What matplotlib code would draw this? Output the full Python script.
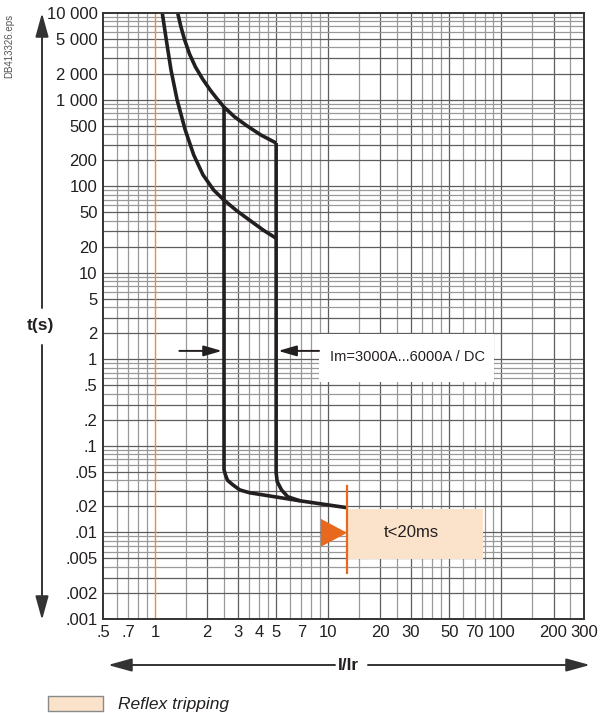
import matplotlib.pyplot as plt
import numpy as np
from matplotlib.patches import Rectangle, Polygon

plt.rcParams["font.family"] = ["Liberation Sans", "DejaVu Sans"]

# long-time curves, t (s) against I/Ir
upper_I = [1.35, 1.41, 1.48, 1.58, 1.71, 1.88, 2.08, 2.28, 2.5, 2.88, 3.38, 4.08, 5.0]
upper_t = [10000, 6900, 4900, 3360, 2380, 1730, 1290, 1020, 820, 630, 500, 390, 315]
lower_I = [1.10, 1.16, 1.235, 1.34, 1.49, 1.67, 1.89, 2.18, 2.5, 2.96, 3.54, 4.22, 5.0]
lower_t = [10000, 4900, 2200, 990, 450, 230, 135, 90, 69, 52, 40, 31, 25]

# instantaneous pick-up Im = 3000 A ... 6000 A
im_low_I = [2.5, 2.5, 2.55, 2.62, 2.81, 3.08, 3.52, 6.86, 12.85]
im_low_t = [820, 0.053, 0.046, 0.040, 0.0355, 0.031, 0.0287, 0.0232, 0.0193]
im_high_I = [5.0, 5.0, 5.07, 5.37, 5.84, 6.86]
im_high_t = [315, 0.049, 0.0387, 0.031, 0.0258, 0.0232]

# reflex tripping
reflex_I = 12.85
reflex_t = 0.02

x_ticks = [.5, .7, 1, 2, 3, 4, 5, 7, 10, 20, 30, 50, 70, 100, 200, 300]
x_labels = [".5", ".7", "1", "2", "3", "4", "5", "7", "10", "20", "30", "50", "70", "100", "200", "300"]
y_ticks = [10000, 5000, 2000, 1000, 500, 200, 100, 50, 20, 10, 5, 2, 1,
           .5, .2, .1, .05, .02, .01, .005, .002, .001]
y_labels = ["10 000", "5 000", "2 000", "1 000", "500", "200", "100", "50", "20", "10", "5", "2", "1",
            ".5", ".2", ".1", ".05", ".02", ".01", ".005", ".002", ".001"]

W, H = 603, 714
fig = plt.figure(figsize=(W / 100, H / 100), dpi=100)
ax = fig.add_axes([103 / W, 95 / H, 481 / W, 606 / H])
ax.set_xscale("log")
ax.set_yscale("log")
ax.set_xlim(0.5, 300)
ax.set_ylim(0.001, 10000)

dark = "#231f20"
orange = "#e8691e"
peach = "#fbe2cb"

# graph paper grid
for dec in [0.1, 1, 10, 100]:
    for m in [1, 1.5, 2, 2.5, 3, 3.5, 4, 4.5, 5, 6, 7, 8, 9]:
        v = m * dec
        if 0.5 < v < 300 and v != 1:
            c = "#5e5e5e" if m in (1, 2, 3, 5) else "#999999"
            ax.axvline(v, color=c, lw=0.9, zorder=1)
for dec in [0.001, 0.01, 0.1, 1, 10, 100, 1000]:
    for m in [1, 2, 3, 4, 5, 6, 7, 8, 9]:
        v = m * dec
        if 0.001 < v < 10000:
            c = "#5e5e5e" if m in (1, 2, 3, 5) else "#999999"
            ax.axhline(v, color=c, lw=0.9, zorder=1)
ax.axvline(1, color="#ef8a3c", lw=1.0, zorder=1.5)

# text boxes on the grid
ax.add_patch(Rectangle((8.85, 0.548), 90.1 - 8.85, 1.96 - 0.548, fc="white", ec="none", zorder=2))
ax.text(28.6, 1.05, "Im=3000A...6000A / DC", fontsize=10.5, color=dark, ha="center", va="center", zorder=3)
ax.add_patch(Rectangle((reflex_I, 0.00495), 77.9 - reflex_I, 0.0188 - 0.00495, fc=peach, ec="none", zorder=2))
ax.text(30, 0.0099, "t<20ms", fontsize=12, color=dark, ha="center", va="center", zorder=3)

# curves
kw = dict(color=dark, lw=2.6, zorder=4, solid_joinstyle="round", solid_capstyle="butt")
ax.plot(upper_I, upper_t, **kw)
ax.plot(lower_I, lower_t, **kw)
ax.plot(im_low_I, im_low_t, **kw)
ax.plot(im_high_I, im_high_t, **kw)

# reflex marker
ax.plot([reflex_I, reflex_I], [0.0345, 0.00341], color=orange, lw=1.6, zorder=5)
ax.add_patch(Polygon([(9.07, 0.01435), (9.07, 0.00683), (reflex_I, 0.0099)],
                     closed=True, fc=orange, ec="none", zorder=5))

# Im arrows
akw = dict(arrowstyle="-|>,head_length=1.1,head_width=0.32", mutation_scale=10,
           lw=1.4, color=dark, shrinkA=0, shrinkB=1.5)
ax.annotate("", xy=(2.5, 1.25), xytext=(1.38, 1.25), arrowprops=akw)
ax.annotate("", xy=(5.0, 1.25), xytext=(8.85, 1.25), arrowprops=akw)

ax.set_xticks(x_ticks)
ax.set_xticklabels(x_labels)
ax.set_yticks(y_ticks)
ax.set_yticklabels(y_labels)
ax.xaxis.set_minor_locator(plt.NullLocator())
ax.yaxis.set_minor_locator(plt.NullLocator())
ax.tick_params(length=0, labelsize=12, labelcolor=dark)
ax.tick_params(axis="x", pad=4)
ax.tick_params(axis="y", pad=4)
for s in ax.spines.values():
    s.set_color("#333333")
    s.set_linewidth(1.4)
    s.set_zorder(6)

# outer axis arrows
okw = dict(arrowstyle="-|>,head_length=1.45,head_width=0.4", mutation_scale=10,
           lw=1.4, color="#333333", shrinkA=0, shrinkB=0)
ax.annotate("", xy=(42, H - 13), xytext=(42, H - 308), xycoords="figure pixels",
            textcoords="figure pixels", arrowprops=okw, annotation_clip=False)
ax.annotate("", xy=(42, H - 620), xytext=(42, H - 345), xycoords="figure pixels",
            textcoords="figure pixels", arrowprops=okw, annotation_clip=False)
fig.text(40 / W, 1 - 326 / H, "t(s)", fontsize=12.5, fontweight="bold", color=dark,
         ha="center", va="center")
ax.annotate("", xy=(108, H - 665), xytext=(335, H - 665), xycoords="figure pixels",
            textcoords="figure pixels", arrowprops=okw, annotation_clip=False)
ax.annotate("", xy=(590, H - 665), xytext=(368, H - 665), xycoords="figure pixels",
            textcoords="figure pixels", arrowprops=okw, annotation_clip=False)
fig.text(348 / W, 1 - 665 / H, "I/Ir", fontsize=12.5, fontweight="bold", color=dark,
         ha="center", va="center")

fig.text(9 / W, 1 - 46 / H, "DB413326.eps", fontsize=7, rotation=90, color="#555555",
         ha="center", va="center")

# legend
fig.add_artist(Rectangle((48 / W, (H - 711) / H), 55 / W, 15 / H, transform=fig.transFigure,
                         fc=peach, ec="#8a8a8a", lw=1))
fig.text(118 / W, 1 - 704 / H, "Reflex tripping", fontsize=12.5, style="italic", color=dark,
         ha="left", va="center")

fig.savefig("out.png", dpi=100)
